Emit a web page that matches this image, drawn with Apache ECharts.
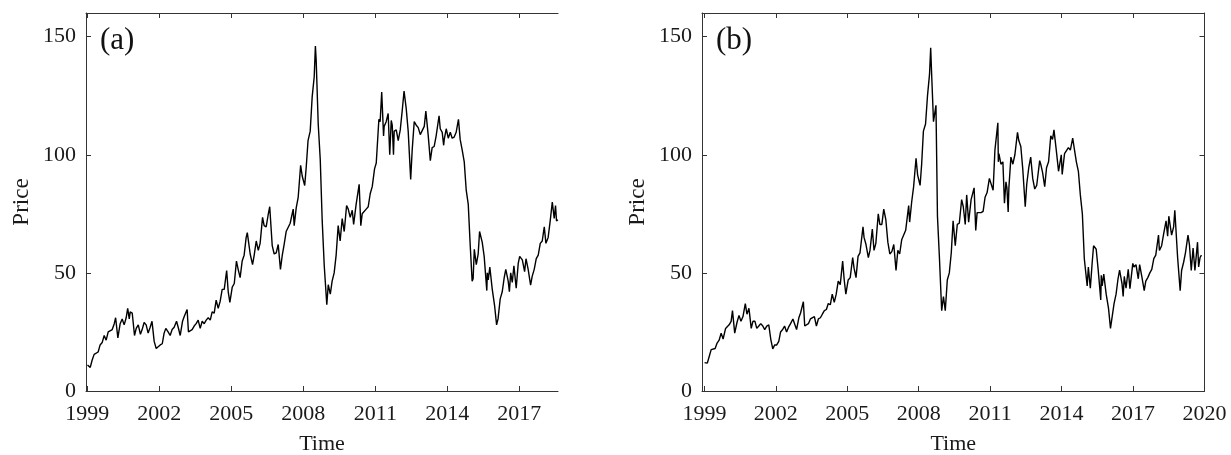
<!DOCTYPE html>
<html>
<head>
<meta charset="utf-8">
<script src="https://cdn.jsdelivr.net/npm/echarts@6/dist/echarts.min.js"></script>
<style>
html,body{margin:0;padding:0;background:#fff;}
#chart{width:1231px;height:455px;}
</style>
</head>
<body>
<div id="chart"></div>
<script>
// ---------- DATA ----------
const xTickYears = [1999, 2002, 2005, 2008, 2011, 2014, 2017, 2020];
const yTicks = [0, 50, 100, 150];
const panelLabels = ['(a)', '(b)'];

const brentDates = ['1999-01-04','1999-02-15','1999-03-15','1999-04-15','1999-05-15','1999-06-15','1999-07-15','1999-08-15','1999-09-15','1999-10-15','1999-11-15','1999-12-15',
'2000-01-15','2000-02-15','2000-03-07','2000-04-10','2000-05-15','2000-06-15','2000-07-15','2000-08-15','2000-09-07','2000-10-01','2000-10-15','2000-11-15','2000-12-20',
'2001-01-15','2001-02-15','2001-03-20','2001-04-15','2001-05-15','2001-06-15','2001-07-15','2001-08-15','2001-09-12','2001-10-15','2001-11-15','2001-12-10',
'2002-01-15','2002-02-15','2002-03-15','2002-04-10','2002-05-15','2002-06-15','2002-07-15','2002-08-15','2002-09-20','2002-10-15','2002-11-15','2002-12-20',
'2003-01-15','2003-02-28','2003-03-20','2003-04-15','2003-05-15','2003-06-15','2003-07-15','2003-08-15','2003-09-15','2003-10-15','2003-11-15','2003-12-15',
'2004-01-15','2004-02-15','2004-03-15','2004-04-15','2004-05-15','2004-06-15','2004-07-15','2004-08-15','2004-09-15','2004-10-22','2004-11-15','2004-12-10',
'2005-01-15','2005-02-15','2005-03-20','2005-04-15','2005-05-15','2005-06-15','2005-07-15','2005-08-15','2005-09-01','2005-10-15','2005-11-20','2005-12-15',
'2006-01-15','2006-02-15','2006-03-15','2006-04-21','2006-05-15','2006-06-15','2006-07-15','2006-08-08','2006-09-15','2006-10-15','2006-11-15','2006-12-15',
'2007-01-18','2007-02-15','2007-03-15','2007-04-15','2007-05-15','2007-06-15','2007-07-31','2007-08-15','2007-09-15','2007-10-15','2007-11-21','2007-12-15',
'2008-01-22','2008-02-15','2008-03-13','2008-04-15','2008-05-15','2008-06-15','2008-07-03','2008-07-15','2008-08-15','2008-09-15','2008-10-15','2008-11-15','2008-12-24',
'2009-01-15','2009-02-15','2009-03-15','2009-04-15','2009-05-15','2009-06-15','2009-07-15','2009-08-15','2009-09-15','2009-10-21','2009-11-15','2009-12-15',
'2010-01-15','2010-02-05','2010-03-15','2010-04-30','2010-05-25','2010-06-15','2010-07-15','2010-08-15','2010-09-15','2010-10-15','2010-11-15','2010-12-20',
'2011-01-15','2011-02-24','2011-03-15','2011-04-08','2011-05-06','2011-05-15','2011-06-15','2011-07-15','2011-08-08','2011-08-31','2011-09-15','2011-10-04','2011-10-15','2011-11-15','2011-12-15',
'2012-01-15','2012-02-15','2012-03-13','2012-04-15','2012-05-15','2012-06-22','2012-07-15','2012-08-15','2012-09-15','2012-10-15','2012-11-15','2012-12-15',
'2013-01-15','2013-02-08','2013-03-15','2013-04-17','2013-05-15','2013-06-15','2013-07-15','2013-08-28','2013-09-15','2013-10-15','2013-11-06','2013-11-15','2013-12-15',
'2014-01-15','2014-02-15','2014-03-15','2014-04-15','2014-05-15','2014-06-19','2014-07-15','2014-08-15','2014-09-15','2014-10-15','2014-11-15','2014-12-15',
'2015-01-13','2015-01-28','2015-02-15','2015-03-17','2015-04-15','2015-05-06','2015-06-15','2015-07-15','2015-08-24','2015-09-01','2015-09-15','2015-10-09','2015-11-15','2015-12-21',
'2016-01-20','2016-02-11','2016-03-15','2016-04-15','2016-05-15','2016-06-08','2016-07-15','2016-08-02','2016-08-22','2016-09-15','2016-10-10','2016-11-14','2016-12-15',
'2017-01-06','2017-02-15','2017-03-22','2017-04-12','2017-05-15','2017-06-21','2017-07-15','2017-08-15','2017-09-15','2017-10-15','2017-11-15','2017-12-15',
'2018-01-15','2018-02-09','2018-03-15','2018-04-15','2018-05-17','2018-06-15','2018-07-05','2018-07-20','2018-08-10'];
const brentPrices = [11.0,10.0,13.0,15.5,15.2,16.5,19.5,20.5,23.5,21.5,25.0,25.5,
26.0,28.5,31.0,22.5,28.5,30.5,28.0,31.0,35.0,30.5,33.5,33.0,23.5,
26.5,28.0,24.0,26.0,29.0,28.0,24.5,27.0,29.5,21.0,18.0,18.5,
19.5,20.0,24.5,26.5,25.0,23.5,26.0,27.0,29.5,27.0,23.5,29.5,
31.5,34.5,25.0,24.5,26.0,27.5,28.5,30.0,26.5,29.5,28.5,30.0,
31.0,30.0,33.5,33.0,38.5,35.0,38.0,43.0,43.0,51.0,42.0,37.5,
44.0,45.5,55.0,51.5,48.0,55.0,57.5,65.0,67.0,58.0,53.5,57.5,
63.5,59.5,62.5,73.5,70.0,69.5,74.5,78.0,61.5,58.0,58.5,62.0,
51.5,57.5,62.0,67.5,67.5,71.0,77.0,70.0,77.5,82.0,95.5,91.0,
87.0,95.0,106.0,110.0,124.5,133.0,146.0,140.0,113.0,98.0,72.0,53.0,36.5,
45.0,41.0,46.5,50.0,57.5,70.0,63.5,73.0,67.5,78.5,77.0,73.5,
76.5,70.5,79.0,87.5,70.0,75.0,75.5,77.0,78.0,83.5,86.5,94.0,
96.5,115.0,114.0,126.5,108.0,112.0,114.0,117.5,100.0,114.5,112.5,100.0,110.0,110.5,106.0,
110.5,119.0,127.0,119.5,110.0,89.5,102.0,114.0,112.5,111.5,108.5,109.0,
112.0,118.5,108.5,97.5,103.0,103.5,108.0,116.5,111.0,109.5,104.0,106.5,111.0,
107.0,109.5,107.0,107.5,109.5,115.0,106.5,102.0,97.0,85.0,79.0,61.5,
46.5,47.5,60.0,53.5,58.0,67.5,63.0,57.0,42.5,50.0,47.0,52.5,43.0,36.0,
28.0,30.5,39.0,42.0,48.0,51.5,46.5,42.0,50.0,46.0,53.0,43.5,54.0,
57.0,55.5,50.5,56.0,51.5,44.8,48.5,51.5,56.0,57.5,62.5,63.5,
69.5,62.5,65.0,72.0,80.0,73.0,78.5,72.0,72.5];

const wtiDates = ['1999-01-04','1999-02-15','1999-03-15','1999-04-15','1999-05-15','1999-06-15','1999-07-15','1999-08-15','1999-09-15','1999-10-15','1999-11-22','1999-12-15',
'2000-01-15','2000-02-15','2000-03-07','2000-04-10','2000-05-15','2000-06-15','2000-07-15','2000-08-15','2000-09-20','2000-10-15','2000-11-15','2000-12-20',
'2001-01-15','2001-02-15','2001-03-15','2001-04-15','2001-05-15','2001-06-15','2001-07-15','2001-08-15','2001-09-15','2001-10-15','2001-11-15','2001-12-15',
'2002-01-15','2002-02-15','2002-03-15','2002-04-15','2002-05-15','2002-06-15','2002-07-15','2002-08-15','2002-09-20','2002-10-15','2002-11-15','2002-12-20',
'2003-01-15','2003-02-27','2003-03-20','2003-04-15','2003-05-15','2003-06-15','2003-07-15','2003-08-15','2003-09-15','2003-10-15','2003-11-15','2003-12-15',
'2004-01-15','2004-02-15','2004-03-15','2004-04-15','2004-05-15','2004-06-15','2004-07-15','2004-08-15','2004-09-15','2004-10-22','2004-11-15','2004-12-10',
'2005-01-15','2005-02-15','2005-03-25','2005-04-15','2005-05-15','2005-06-15','2005-07-15','2005-08-30','2005-09-15','2005-10-15','2005-11-20','2005-12-15',
'2006-01-20','2006-02-15','2006-03-15','2006-04-21','2006-05-15','2006-06-15','2006-07-14','2006-08-15','2006-09-15','2006-10-15','2006-11-15','2006-12-15',
'2007-01-18','2007-02-15','2007-03-15','2007-04-15','2007-05-15','2007-06-15','2007-07-31','2007-08-15','2007-09-15','2007-10-15','2007-11-21','2007-12-15',
'2008-01-22','2008-02-15','2008-03-13','2008-04-15','2008-05-15','2008-06-15','2008-07-03','2008-07-15','2008-08-15','2008-09-22','2008-10-15','2008-11-15','2008-12-19',
'2009-01-15','2009-02-12','2009-03-15','2009-04-15','2009-05-15','2009-06-12','2009-07-15','2009-08-15','2009-09-15','2009-10-21','2009-11-15','2009-12-15',
'2010-01-06','2010-02-05','2010-03-15','2010-04-30','2010-05-25','2010-06-15','2010-07-15','2010-08-15','2010-09-15','2010-10-15','2010-11-15','2010-12-20',
'2011-01-15','2011-02-15','2011-03-15','2011-04-29','2011-05-06','2011-05-15','2011-06-15','2011-07-15','2011-08-08','2011-08-31','2011-09-15','2011-10-04','2011-10-15','2011-11-15','2011-12-15',
'2012-01-15','2012-02-24','2012-03-15','2012-04-15','2012-05-15','2012-06-22','2012-07-15','2012-08-15','2012-09-14','2012-10-15','2012-11-15','2012-12-15',
'2013-01-30','2013-02-15','2013-03-15','2013-04-17','2013-05-15','2013-06-15','2013-07-19','2013-08-15','2013-09-06','2013-10-15','2013-11-15','2013-12-27',
'2014-01-10','2014-02-15','2014-03-15','2014-04-15','2014-05-15','2014-06-20','2014-07-15','2014-08-15','2014-09-15','2014-10-15','2014-11-15','2014-12-15',
'2015-01-28','2015-02-15','2015-03-17','2015-04-15','2015-05-06','2015-06-15','2015-07-15','2015-08-24','2015-09-01','2015-09-15','2015-10-09','2015-11-15','2015-12-21',
'2016-01-20','2016-02-11','2016-03-15','2016-04-15','2016-05-15','2016-06-08','2016-07-15','2016-08-02','2016-08-19','2016-09-15','2016-10-19','2016-11-14','2016-12-28',
'2017-01-15','2017-02-15','2017-03-22','2017-04-12','2017-05-15','2017-06-21','2017-07-15','2017-08-15','2017-09-15','2017-10-15','2017-11-15','2017-12-15',
'2018-01-26','2018-02-09','2018-03-15','2018-04-15','2018-05-22','2018-06-15','2018-07-03','2018-08-15','2018-09-15','2018-10-03','2018-11-15','2018-12-24',
'2019-01-15','2019-02-15','2019-03-15','2019-04-23','2019-05-15','2019-06-12','2019-07-10','2019-08-07','2019-09-16','2019-10-03','2019-10-25','2019-11-15'];
const wtiPrices = [12.0,11.8,14.5,17.5,17.8,18.0,20.3,21.5,24.5,22.0,26.5,26.0,
28.0,29.5,34.0,24.5,29.0,32.0,29.5,31.5,37.0,32.5,35.0,26.5,
29.5,29.5,26.5,27.5,28.5,27.5,26.0,27.5,28.0,22.0,17.8,19.5,
19.5,21.0,25.0,26.0,27.5,25.0,27.0,28.5,30.5,28.5,26.0,31.0,
33.0,37.8,27.5,28.0,28.5,30.5,30.5,31.5,27.5,30.5,31.0,32.5,
34.0,34.5,37.0,36.5,41.0,37.5,41.0,46.5,45.0,55.0,47.0,41.0,
47.0,48.0,56.5,52.0,48.0,57.0,58.5,69.5,65.0,62.0,56.5,59.5,
68.5,59.5,62.5,75.0,70.5,70.5,77.0,72.5,63.0,58.0,59.0,62.0,
51.0,59.5,58.0,64.0,63.5,68.0,78.5,71.5,80.0,86.5,98.5,91.5,
87.0,96.0,110.0,113.0,125.0,134.0,145.3,136.0,114.0,120.9,74.0,56.0,34.0,
40.0,34.0,47.0,50.0,58.5,72.0,61.5,70.5,71.0,81.0,78.0,70.5,
83.0,71.5,81.0,86.0,68.0,75.5,76.0,75.5,76.0,82.0,84.0,90.0,
89.5,85.0,102.0,113.5,97.0,100.5,96.0,97.0,79.5,88.5,86.0,75.8,86.0,99.0,96.0,
100.0,109.5,106.0,103.5,94.0,78.0,87.5,94.5,99.0,90.0,85.5,87.0,
97.5,96.0,92.5,86.5,94.5,97.0,108.0,106.5,110.5,101.0,93.0,100.0,
91.7,100.5,100.0,103.0,102.0,107.0,102.5,97.0,93.0,83.0,75.0,56.0,
44.5,52.5,43.5,54.5,61.5,60.0,51.5,38.5,49.0,44.5,49.5,41.0,35.0,
26.5,26.2,37.0,41.0,47.5,51.2,45.5,40.0,48.5,43.5,51.5,43.3,54.0,
52.5,53.5,47.5,53.5,48.5,42.5,46.5,48.0,50.0,51.5,56.0,57.5,
66.0,59.5,61.5,66.5,72.0,65.5,74.0,66.0,69.5,76.5,56.5,42.5,
51.0,54.5,58.5,66.0,62.0,51.0,60.5,51.0,63.0,52.5,56.5,57.5];

// ---------- HELPERS ----------
function toYear(s) {
  const p = s.split('-').map(Number);
  const start = Date.UTC(p[0], 0, 1), end = Date.UTC(p[0] + 1, 0, 1);
  return p[0] + (Date.UTC(p[0], p[1] - 1, p[2]) - start) / (end - start);
}
function pairs(dates, vals) { return dates.map((d, i) => [toYear(d), vals[i]]); }

const FONT = '"Liberation Serif", "Times New Roman", serif';
const AX = '#333333';
const TXT = '#1a1a1a';
const grids = [
  {left: 86, top: 13, width: 472, height: 378, outerBoundsMode: 'none', containLabel: false},
  {left: 702, top: 13, width: 502.5, height: 378, outerBoundsMode: 'none', containLabel: false}
];
const xRanges = [[1998.946, 2018.61], [1998.90, 2020.0]];

function bottomX(gi) {
  return {
    type: 'value', gridIndex: gi, position: 'bottom',
    min: xRanges[gi][0], max: xRanges[gi][1],
    name: 'Time', nameLocation: 'middle', nameGap: 42,
    nameTextStyle: {fontFamily: FONT, fontSize: 22, color: TXT},
    axisLine: {show: true, onZero: false, lineStyle: {color: AX, width: 1}},
    axisTick: {show: true, inside: true, length: 5, lineStyle: {color: AX}, customValues: xTickYears},
    axisLabel: {show: true, margin: 12, fontFamily: FONT, fontSize: 22, color: TXT,
      customValues: xTickYears, formatter: v => String(Math.round(v))},
    splitLine: {show: false}
  };
}
function topX(gi) {
  return {
    type: 'value', gridIndex: gi, position: 'top',
    min: xRanges[gi][0], max: xRanges[gi][1],
    axisLine: {show: true, onZero: false, lineStyle: {color: AX, width: 1}},
    axisTick: {show: true, inside: true, length: 5, lineStyle: {color: AX}, customValues: xTickYears},
    axisLabel: {show: false},
    splitLine: {show: false}
  };
}
function leftY(gi) {
  return {
    type: 'value', gridIndex: gi, position: 'left', min: 0, max: 160,
    name: 'Price', nameLocation: 'middle', nameGap: 53, nameRotate: 90,
    nameTextStyle: {fontFamily: FONT, fontSize: 23, color: TXT},
    axisLine: {show: true, onZero: false, lineStyle: {color: AX, width: 1}},
    axisTick: {show: true, inside: true, length: 5, lineStyle: {color: AX}, customValues: yTicks},
    axisLabel: {show: true, margin: 10, fontFamily: FONT, fontSize: 22, color: TXT, customValues: yTicks},
    splitLine: {show: false}
  };
}
function rightY(gi) {
  return {
    type: 'value', gridIndex: gi, position: 'right', min: 0, max: 160,
    axisLine: {show: true, onZero: false, lineStyle: {color: AX, width: 1}},
    axisTick: {show: true, inside: true, length: 5, lineStyle: {color: AX}, customValues: yTicks},
    axisLabel: {show: false},
    splitLine: {show: false}
  };
}

const option = {
  animation: false,
  backgroundColor: '#ffffff',
  grid: grids,
  xAxis: [bottomX(0), topX(0), bottomX(1), topX(1)],
  yAxis: [leftY(0), leftY(1), rightY(1)],
  series: [
    {type: 'line', xAxisIndex: 0, yAxisIndex: 0, data: pairs(brentDates, brentPrices),
      showSymbol: false, symbol: 'none', lineStyle: {color: '#000', width: 1.4}},
    {type: 'line', xAxisIndex: 2, yAxisIndex: 1, data: pairs(wtiDates, wtiPrices),
      showSymbol: false, symbol: 'none', lineStyle: {color: '#000', width: 1.4}}
  ],
  graphic: [
    {type: 'text', left: 100, top: 25, style: {text: panelLabels[0], font: '31px ' + FONT, fill: '#111'}},
    {type: 'text', left: 716, top: 25, style: {text: panelLabels[1], font: '31px ' + FONT, fill: '#111'}}
  ]
};

const chart = echarts.init(document.getElementById('chart'), null, {renderer: 'canvas'});
chart.setOption(option);
</script>
</body>
</html>
